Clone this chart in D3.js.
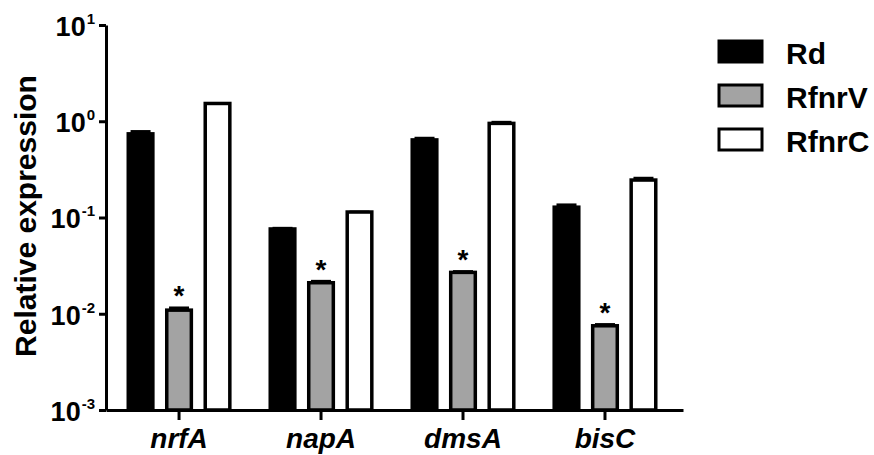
<!DOCTYPE html>
<html><head><meta charset="utf-8">
<script src="https://cdn.jsdelivr.net/npm/d3@7"></script>
<style>
body{margin:0;background:#fff}
text{font-family:"Liberation Sans",Arial,sans-serif;font-weight:bold;fill:#000}
</style></head>
<body><svg id="c" width="874" height="455"></svg>
<script>
// ---- data ----
const genes = ["nrfA", "napA", "dmsA", "bisC"];
const strains = ["Rd", "RfnrV", "RfnrC"];
const rdValues = [0.74, 0.076, 0.64, 0.128];
const rdErrors = [0.07, 0.004, 0.05, 0.012];
const rfnrVValues = [0.0109, 0.021, 0.0269, 0.0075];
const rfnrVErrors = [0.0010, 0.0015, 0.0015, 0.0005];
const rfnrCValues = [1.53, 0.114, 0.95, 0.245];
const rfnrCErrors = [0.05, 0.004, 0.06, 0.02];
const significant = ["RfnrV"];
const yTickExponents = [-3, -2, -1, 0, 1];
const yLabel = "Relative expression";

const colors = {Rd: "#000000", RfnrV: "#a3a3a3", RfnrC: "#ffffff"};
const seriesVals = {Rd: rdValues, RfnrV: rfnrVValues, RfnrC: rfnrCValues};
const seriesErrs = {Rd: rdErrors, RfnrV: rfnrVErrors, RfnrC: rfnrCErrors};

const svg = d3.select("#c");
const mLeft = 106, mRight = 683, mTop = 25, mBottom = 410;

const y = d3.scaleLog().domain([1e-3, 10]).range([mBottom, mTop]);
const x0 = d3.scaleBand().domain(genes).range([mLeft, mRight])
  .paddingInner(0.26).paddingOuter(0.162).align(0.446);
const x1 = d3.scaleBand().domain(strains).range([0, x0.bandwidth()])
  .paddingInner(0.27).paddingOuter(0);

const data = [];
genes.forEach((g, i) => strains.forEach(s => {
  data.push({gene: g, strain: s, v: seriesVals[s][i], e: seriesErrs[s][i]});
}));

const sw = 3.5;
const g = svg.append("g");
// error bars
const eb = g.selectAll("g.err").data(data).enter().append("g");
eb.append("line")
  .attr("x1", d => x0(d.gene) + x1(d.strain) + x1.bandwidth()/2)
  .attr("x2", d => x0(d.gene) + x1(d.strain) + x1.bandwidth()/2)
  .attr("y1", d => y(d.v)).attr("y2", d => y(d.v + d.e) + 2)
  .attr("stroke", "#000").attr("stroke-width", 3);
eb.append("line")
  .attr("x1", d => x0(d.gene) + x1(d.strain) + x1.bandwidth()/2 - 10)
  .attr("x2", d => x0(d.gene) + x1(d.strain) + x1.bandwidth()/2 + 10)
  .attr("y1", d => y(d.v + d.e) + 2).attr("y2", d => y(d.v + d.e) + 2)
  .attr("stroke", "#000").attr("stroke-width", 4);
// bars
g.selectAll("rect.bar").data(data).enter().append("rect")
  .attr("x", d => x0(d.gene) + x1(d.strain) + sw/2)
  .attr("width", x1.bandwidth() - sw)
  .attr("y", d => y(d.v))
  .attr("height", d => mBottom - y(d.v))
  .attr("fill", d => colors[d.strain])
  .attr("stroke", "#000").attr("stroke-width", sw);
// asterisks
g.selectAll("text.star").data(data.filter(d => significant.includes(d.strain))).enter()
  .append("text")
  .attr("x", d => x0(d.gene) + x1(d.strain) + x1.bandwidth()/2)
  .attr("y", d => y(d.v + d.e) - 1)
  .attr("text-anchor", "middle").attr("font-size", 28).text("*");

// y axis
const yAxis = d3.axisLeft(y).tickValues(yTickExponents.map(e => Math.pow(10, e)))
  .tickSize(7).tickSizeOuter(0).tickFormat("");
const ya = svg.append("g").attr("transform", `translate(${mLeft},0)`).call(yAxis);
ya.select(".domain").attr("stroke-width", 3);
ya.selectAll(".tick line").attr("stroke-width", 3);
ya.selectAll(".tick").each(function(d) {
  const e = Math.round(Math.log10(d));
  const t = d3.select(this).append("text")
    .attr("x", -11).attr("y", 0).attr("dy", "0.38em")
    .attr("text-anchor", "end").attr("font-size", 27).attr("fill", "#000");
  t.append("tspan").text("10");
  t.append("tspan").attr("font-size", 15).attr("dx", 1).attr("dy", "-0.8em").text(String(e));
});

// x axis
const xAxis = d3.axisBottom(x0).tickSize(10).tickSizeOuter(0).tickFormat("");
const xa = svg.append("g").attr("transform", `translate(0,${mBottom})`).call(xAxis);
xa.select(".domain").attr("stroke-width", 3);
xa.selectAll(".tick line").attr("stroke-width", 3);
xa.selectAll(".tick").append("text")
  .attr("y", 38).attr("text-anchor", "middle")
  .attr("font-size", 28).attr("font-style", "italic").attr("fill", "#000")
  .text(d => d);

// y label
svg.append("text")
  .attr("transform", "translate(36,216) rotate(-90)")
  .attr("text-anchor", "middle").attr("font-size", 30).text(yLabel);

// legend
const lg = svg.append("g").attr("transform", "translate(719,41)");
strains.forEach((s, i) => {
  lg.append("rect").attr("x", 0).attr("y", i * 44).attr("width", 43).attr("height", 21)
    .attr("fill", colors[s]).attr("stroke", "#000").attr("stroke-width", 3);
  lg.append("text").attr("x", 67).attr("y", i * 44 + 22.5).attr("font-size", 30).text(s);
});
</script></body></html>
